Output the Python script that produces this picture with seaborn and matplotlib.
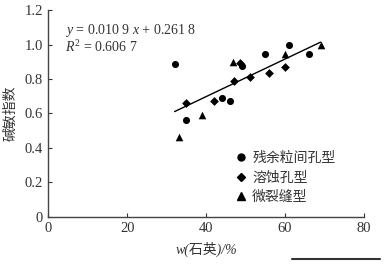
import matplotlib
matplotlib.use("Agg")
import matplotlib.pyplot as plt
import seaborn as sns
import pandas as pd
import numpy as np
from matplotlib.lines import Line2D

# ---- data ----
types = ["残余粒间孔型", "溶蚀孔型", "微裂缝型"]
x_res = [32, 35, 44, 46, 49.2, 55, 61, 66]
y_res = [0.885, 0.56, 0.688, 0.672, 0.878, 0.943, 0.997, 0.943]
x_dis = [35, 42, 47, 48.6, 51, 56, 60]
y_dis = [0.66, 0.672, 0.788, 0.89, 0.811, 0.835, 0.87]
x_mic = [33, 39, 46.8, 60, 69]
y_mic = [0.463, 0.59, 0.897, 0.943, 1.0]
slope, intercept = 0.0109, 0.2618
fit_range = [32, 69]
eq_text = "$y$ = 0.010 9 $x$ + 0.261 8\n$R^2$ = 0.606 7"
x_ticks = [0, 20, 40, 60, 80]
y_ticks = [0, 0.2, 0.4, 0.6, 0.8, 1.0, 1.2]
y_ticklabels = ["0", "0.2", "0.4", "0.6", "0.8", "1.0", "1.2"]

df = pd.DataFrame({
    "x": x_res + x_dis + x_mic,
    "y": y_res + y_dis + y_mic,
    "type": [types[0]] * len(x_res) + [types[1]] * len(x_dis) + [types[2]] * len(x_mic),
})
fit = pd.DataFrame({"x": fit_range})
fit["y"] = slope * fit["x"] + intercept

sns.set_style("ticks")
plt.rcParams["font.family"] = ["Liberation Serif", "Noto Sans CJK SC"]
plt.rcParams["mathtext.fontset"] = "custom"
plt.rcParams["mathtext.rm"] = "Liberation Serif"
plt.rcParams["mathtext.it"] = "Liberation Serif:italic"

fig = plt.figure(figsize=(3.85, 2.65), dpi=100)
ax = fig.add_axes([0.1255, 0.182, 0.82, 0.78])

markers = {types[0]: "o", types[1]: "D", types[2]: "^"}
sizes = {types[0]: 26, types[1]: 20, types[2]: 30}
for t in types:
    sub = df[df["type"] == t]
    sns.scatterplot(data=sub, x="x", y="y", marker=markers[t], s=sizes[t],
                    color="black", edgecolor="black", linewidth=0, ax=ax,
                    label=t, zorder=3)
sns.lineplot(data=fit, x="x", y="y", color="black", linewidth=1.0, ax=ax,
             legend=False, zorder=2)

ax.set_xlim(0, 80)
ax.set_ylim(0, 1.2)
ax.set_xticks(x_ticks)
ax.set_yticks(y_ticks)
ax.set_yticklabels(y_ticklabels)
ax.tick_params(direction="in", length=3, width=0.8, labelsize=10.5,
               colors="#333333", labelcolor="#333333", pad=4)
for s in ["left", "bottom"]:
    ax.spines[s].set_color("#444444")
    ax.spines[s].set_linewidth(1.0)
sns.despine(ax=ax)

ax.set_xlabel("w(石英)/%", fontsize=10, color="#333333", labelpad=5,
              fontstyle="italic")
ax.set_ylabel("碱敏指数", fontsize=10, color="#333333", labelpad=5)

ax.text(4.3, 1.035, eq_text, fontsize=10, color="#333333", va="center",
        linespacing=1.0)

msizes = {types[0]: 5, types[1]: 4.5, types[2]: 6}
handles = [Line2D([], [], marker=markers[t], color="black", linestyle="none",
                  markersize=msizes[t]) for t in types]
ax.legend(handles, types, loc="lower left", bbox_to_anchor=(0.58, 0.035),
          frameon=False, fontsize=10, handlelength=0.6, handletextpad=0.5,
          labelspacing=0.45, borderaxespad=0, labelcolor="#333333")

fig.add_artist(Line2D([292 / 385, 380 / 385], [1 - 259 / 265, 1 - 259 / 265],
                      color="#333333", linewidth=1.5))

fig.savefig("out.png", dpi=100)
